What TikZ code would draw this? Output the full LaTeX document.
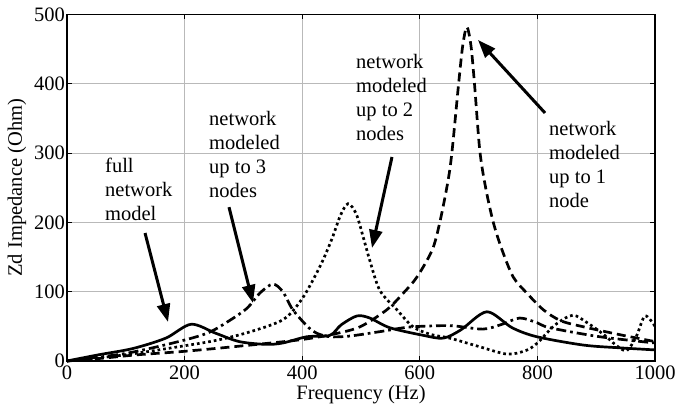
\documentclass[tikz,border=0pt]{standalone}
\usepackage{fontspec}
\setmainfont{Liberation Serif}
\usetikzlibrary{arrows.meta}

\begin{document}
\begin{tikzpicture}
    \tikzstyle{every node}=[font=\fontsize{20.5}{24}\selectfont, inner sep=0pt]
    \tikzstyle{gridline}=[gray!55, line width=0.8pt]
    \tikzstyle{tick}=[line width=0.8pt]
    \tikzstyle{curve}=[line width=2.7pt]
    \tikzstyle{dashcurve}=[curve, dash pattern=on 9pt off 5pt]
    \tikzstyle{dotcurve}=[curve, dash pattern=on 2.7pt off 3pt]
    \tikzstyle{dashdotcurve}=[curve, dash pattern=on 10pt off 4pt on 2.7pt off 4pt]
    \tikzstyle{pointer}=[line width=3pt, -{Triangle[length=18pt,width=13pt]}]
    \tikzstyle{remark}=[anchor=north west, align=left]
    \useasboundingbox (0,0) rectangle (677pt,404pt);
    \begin{scope}[shift={(67pt,43pt)}, x=0.588pt, y=0.693pt]
    \foreach \f in {200,400,...,800}
        \draw[gridline] (\f,0) -- (\f,500);
    \foreach \z in {100,200,...,400}
        \draw[gridline] (0,\z) -- (1000,\z);
    \foreach \f in {200,400,...,800} {
        \draw[tick] (\f,0) -- ++(0,5pt);
        \draw[tick] (\f,500) -- ++(0,-5pt);
    }
    \foreach \z in {100,200,...,400} {
        \draw[tick] (0,\z) -- ++(5pt,0);
        \draw[tick] (1000,\z) -- ++(-5pt,0);
    }
    \draw[curve] plot[smooth, tension=0.5] coordinates {
        (0,0) (54,9) (112,18) (168,33) (211,53) (253,40) (293,28) (338,24)
        (367,26) (408,35) (447,37) (466,52) (493,65) (515,62) (549,48)
        (606,37) (640,33) (670,45) (714,71) (757,48) (799,35) (878,23)
        (940,19) (1000,16)};
    \draw[dashdotcurve] plot[smooth, tension=0.5] coordinates {
        (0,0) (100,11) (185,27) (238,40) (272,56) (306,76) (328,98) (350,111)
        (367,100) (384,74) (410,49) (425,40) (447,35) (481,36) (537,43)
        (583,49) (651,51) (707,46) (740,53) (770,62) (800,55) (821,48)
        (906,35) (1000,26)};
    \draw[dotcurve] plot[smooth, tension=0.5] coordinates {
        (0,0) (100,9) (200,22) (255,30) (311,42) (368,60) (400,90) (430,136)
        (450,175) (465,210) (478,227) (492,212) (505,175) (515,145) (532,102)
        (561,74) (589,49) (620,38) (651,33) (700,21) (748,10) (780,15)
        (800,26) (830,52) (860,66) (885,55) (913,38) (935,22) (952,15)
        (968,35) (983,65) (1000,50)};
    \draw[dashcurve] plot[smooth, tension=0.5] coordinates {
        (0,0) (60,4) (120,9) (200,14) (300,22) (400,31) (460,40) (500,50)
        (544,74) (572,98) (595,121) (621,160) (634,200) (648,260) (655,304)
        (666,400) (673,455) (680,482) (687,455) (693,400) (702,304) (712,250)
        (725,200) (740,160) (759,121) (782,98) (810,74) (840,58) (880,49)
        (940,38) (1000,28)};
    \draw[line width=1.2pt] (0,0) rectangle (1000,500);
    \foreach \f in {0,200,...,1000}
        \node[anchor=north] (xt\f) at ([yshift=-5pt]\f,0) {\f};
    \foreach \z in {0,100,...,500}
        \node[anchor=east] (yt\z) at ([xshift=-2pt]0,\z) {\z};
    \node (xlab) at (500,-48) {Frequency (Hz)};
    \node[rotate=90] (ylab) at (-85,250) {Zd Impedance (Ohm)};
    \node[remark] (fullmodel) at (64.6,293) {full\\network\\model};
    \node[remark] (upto3) at (241.5,361) {network\\modeled\\up to 3\\nodes};
    \node[remark] (upto2) at (491.5,443) {network\\modeled\\up to 2\\nodes};
    \node[remark] (upto1) at (819.7,346) {network\\modeled\\up to 1\\node};
    \coordinate (fullfrom) at (132.7,184.7);
    \coordinate (fullto) at (171.8,56.3);
    \coordinate (threefrom) at (275.5,222);
    \coordinate (threeto) at (316.3,83.7);
    \coordinate (twofrom) at (552.7,294.4);
    \coordinate (twoto) at (518.7,163.1);
    \coordinate (onefrom) at (813,357.9);
    \coordinate (oneto) at (699,463.2);
    \draw[pointer] (fullfrom) -- (fullto);
    \draw[pointer] (threefrom) -- (threeto);
    \draw[pointer] (twofrom) -- (twoto);
    \draw[pointer] (onefrom) -- (oneto);
    \end{scope}
\end{tikzpicture}
\end{document}
